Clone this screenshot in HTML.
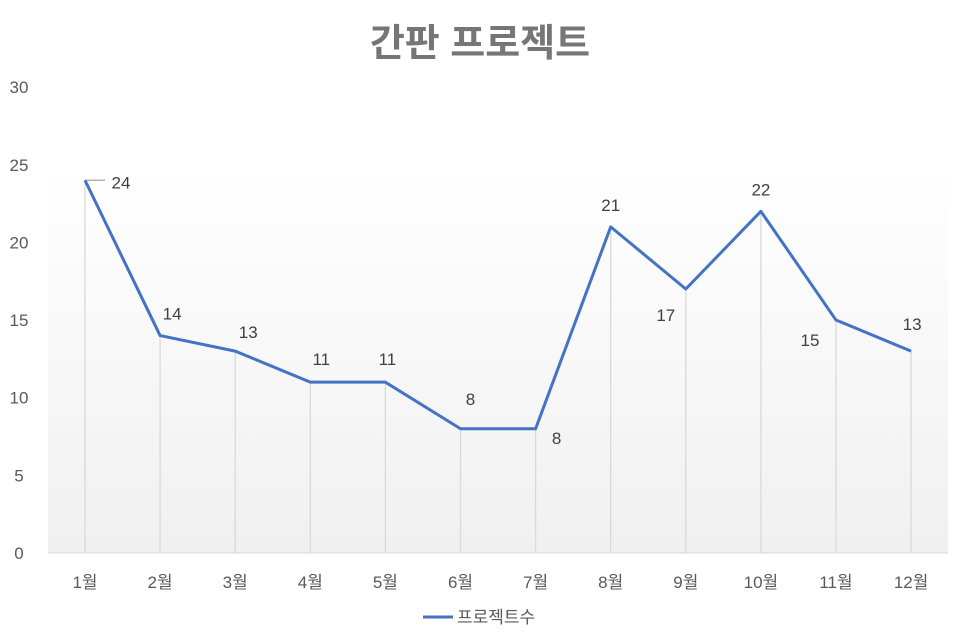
<!DOCTYPE html>
<html><head><meta charset="utf-8"><style>
body{margin:0;background:#fff;}
svg{display:block;font-family:"Liberation Sans","Noto Sans CJK KR",sans-serif;}
</style></head><body>
<svg id="chart" width="966" height="644">
<defs><linearGradient id="bg" x1="0" y1="0" x2="0" y2="1">
<stop offset="0" stop-color="#ffffff"/><stop offset="1" stop-color="#f0f0f0"/></linearGradient></defs>
<rect x="48" y="165" width="900" height="388" fill="url(#bg)"/>
<text x="480" y="56" text-anchor="middle" font-size="38" font-weight="bold" fill="#767676">간판 프로젝트</text>
<g id="grid"></g><g id="marks"></g>
<line x1="423" y1="617" x2="453" y2="617" stroke="#4472c4" stroke-width="3"/>
<text x="457" y="623" font-size="17" fill="#595959">프로젝트수</text>
</svg>
<script>
const categories=["1월","2월","3월","4월","5월","6월","7월","8월","9월","10월","11월","12월"];
const values=[24,14,13,11,11,8,8,21,17,22,15,13];
const yTicks=[0,5,10,15,20,25,30];
const labelDx=[36,12,13,11,2,10,21,0,-20,0,-26,1];
const labelDy=[2,-22,-19,-23,-23,-30,9,-22,26,-22,20,-27];
const ns="http://www.w3.org/2000/svg";
const X=i=>85+i*75.1, Y=v=>553-v*15.53;
const g=document.getElementById('grid'), m=document.getElementById('marks');
function mk(tag,at,parent,txt){const e=document.createElementNS(ns,tag);for(const k in at)e.setAttribute(k,at[k]);if(txt!=null)e.textContent=txt;parent.appendChild(e);return e;}
yTicks.forEach(t=>{const e=mk('text',{x:19,y:Y(t)+6,'text-anchor':'middle','font-size':17,fill:'#595959'},g,t);

});
const ax=mk('line',{x1:48,y1:553,x2:948,y2:553,stroke:'#d9d9d9','stroke-width':1},g);


categories.forEach((c,i)=>{const e=mk('text',{x:X(i),y:588,'text-anchor':'middle','font-size':17,fill:'#595959'},g,c);


const d=mk('line',{x1:X(i),y1:Y(values[i]),x2:X(i),y2:553,stroke:'#d9d9d9','stroke-width':1.3},g);

});
const ll=mk('line',{x1:X(0),y1:Y(values[0]),x2:X(0)+20,y2:Y(values[0]),stroke:'#a6a6a6','stroke-width':1.3},g);


const pl=mk('polyline',{points:values.map((v,i)=>X(i)+','+Y(v)).join(' '),fill:'none',stroke:'#4472c4','stroke-width':3,'stroke-linejoin':'round'},m);


values.forEach((v,i)=>{const e=mk('text',{x:X(i)+labelDx[i],y:Y(v)+labelDy[i]+6,'text-anchor':'middle','font-size':17,fill:'#404040'},m,v);

});
</script>
</body></html>
